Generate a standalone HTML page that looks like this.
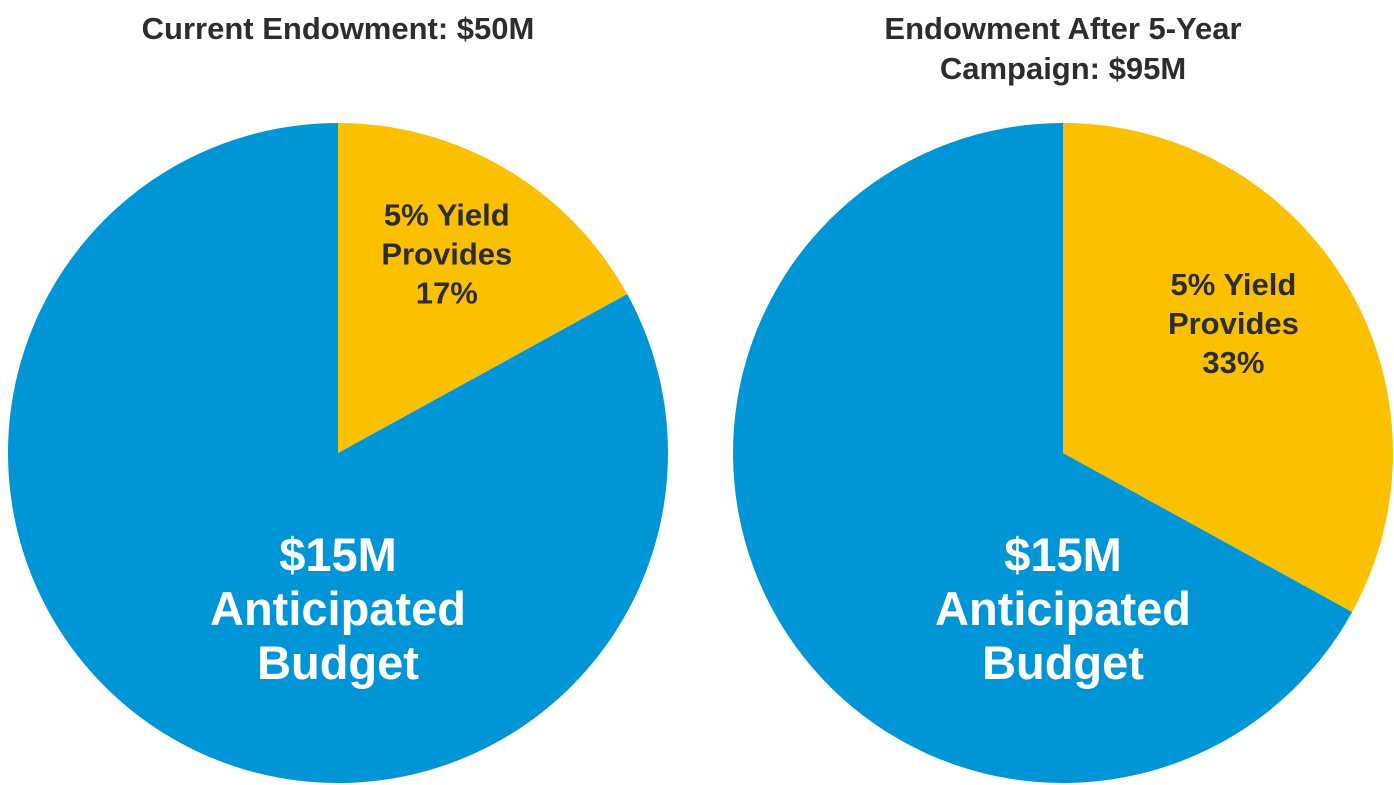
<!DOCTYPE html>
<html><head><meta charset="utf-8"><style>
html,body{margin:0;padding:0;background:#fff;}
svg{display:block;font-family:"Liberation Sans",sans-serif;font-weight:bold;}
</style></head><body>
<svg id="chart" width="1394" height="785" viewBox="0 0 1394 785"></svg>
<script>
const pieTitles = [["Current Endowment: $50M"], ["Endowment After  5-Year", "Campaign: $95M"]];
const yieldShares = [17, 33];
const yieldLabels = ["17%", "33%"];
const budgetLabel = ["$15M", "Anticipated", "Budget"];
const centers = [338, 1063];
const cy = 453, R = 330;
const NS = "http://www.w3.org/2000/svg";
const svg = document.getElementById("chart");
function mk(tag, attrs, parent) {
  const e = document.createElementNS(NS, tag);
  for (const k in attrs) e.setAttribute(k, attrs[k]);
  (parent || svg).appendChild(e);
  return e;
}
function pt(cx, a) { return [cx + R * Math.sin(a), cy - R * Math.cos(a)]; }
yieldShares.forEach((v, i) => {
  const cx = centers[i];
  const g = mk("g", {});
  
  
  const a = v / 100 * 2 * Math.PI;
  const [x1, y1] = pt(cx, a);
  const blue = mk("path", {d: `M${cx},${cy} L${x1},${y1} A${R},${R} 0 ${a < Math.PI ? 1 : 0} 1 ${cx},${cy - R} Z`, fill: "#0095D6"}, g);
  
  
  const yel = mk("path", {d: `M${cx},${cy} L${cx},${cy - R} A${R},${R} 0 ${a > Math.PI ? 1 : 0} 1 ${x1},${y1} Z`, fill: "#FBC000"}, g);
  
  
  // title
  const tl = pieTitles[i];
  tl.forEach((t, j) => {
    const tx = mk("text", {x: cx, y: 39 + j * 40, "text-anchor": "middle", "font-size": 31, fill: "#2d2d2d"}, g);
    tx.textContent = t;
    
    
  });
  // yield label at mid-angle
  const mid = a / 2;
  const lx = cx + R * 0.6 * Math.sin(mid) + (i === 0 ? 8 : 0);
  const ly = cy - R * 0.6 * Math.cos(mid);
  ["5% Yield", "Provides", yieldLabels[i]].forEach((t, j) => {
    const tx = mk("text", {x: lx, y: ly - 28 + (j - 1) * 39 + 10, "text-anchor": "middle", "font-size": 31, fill: "#2d2d2d"}, g);
    tx.textContent = t;
    
    
  });
  budgetLabel.forEach((t, j) => {
    const tx = mk("text", {x: cx, y: 571 + j * 54, "text-anchor": "middle", "font-size": 47, fill: "#fff"}, g);
    tx.textContent = t;
    
    
  });
});
</script>
</body></html>
